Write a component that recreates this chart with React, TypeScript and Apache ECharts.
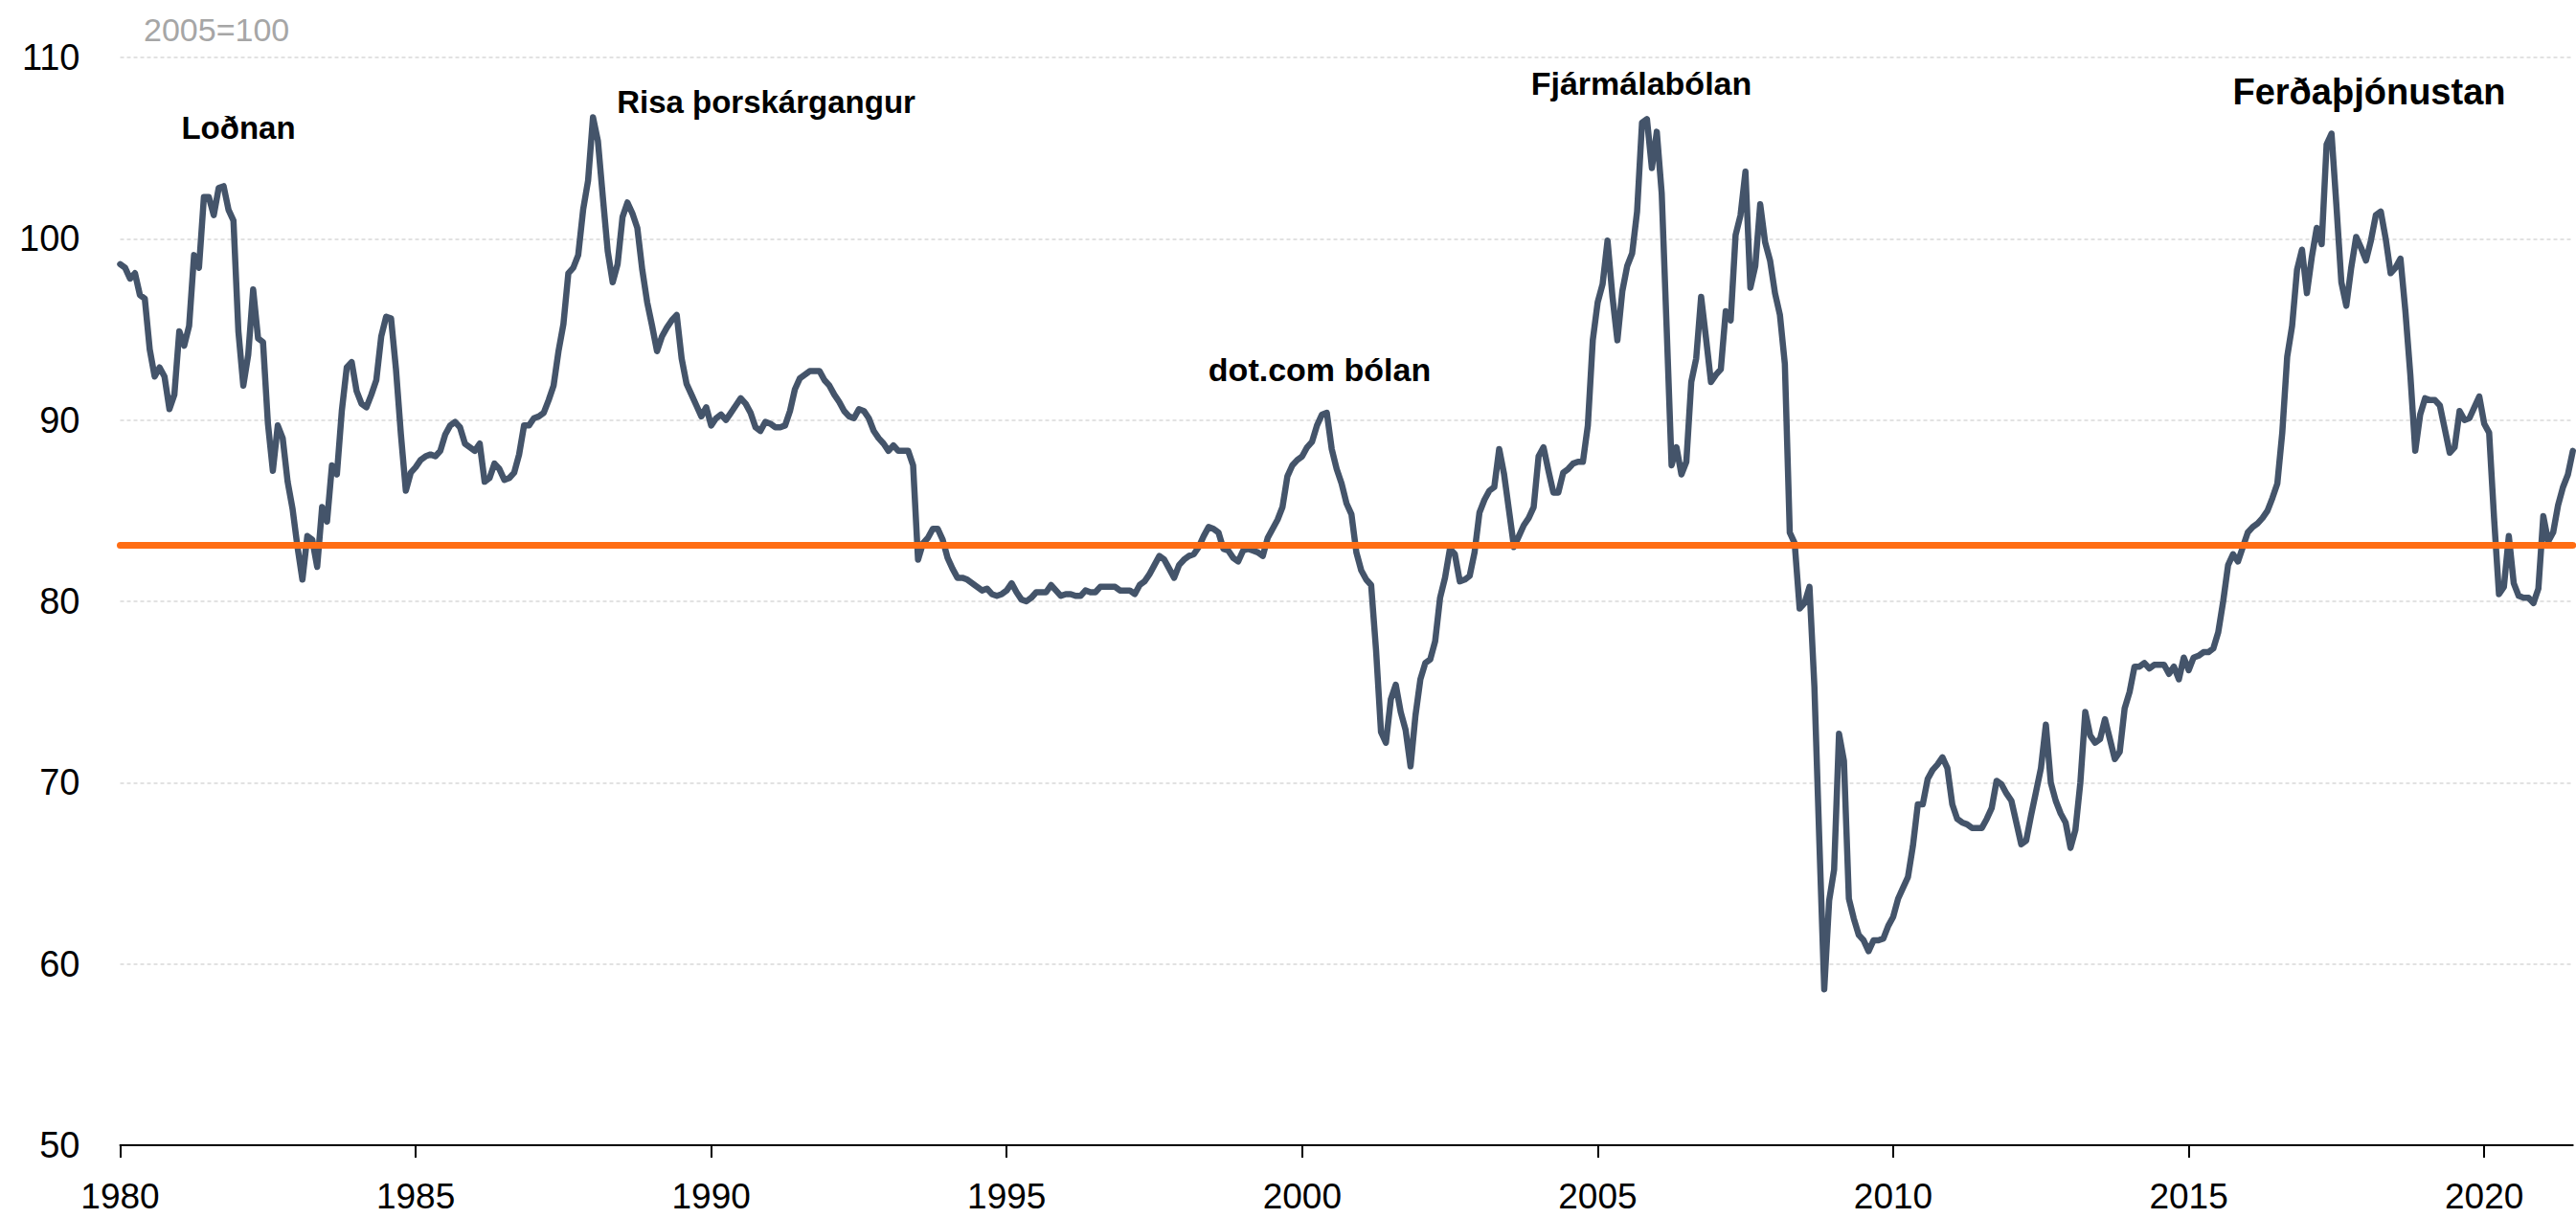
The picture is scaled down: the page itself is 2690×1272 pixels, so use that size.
import React, { useEffect, useRef } from "react";
import * as echarts from "echarts";

// Monthly index values (2005=100), one array per year
const v1980 = [98.6, 98.4, 97.8, 98.1, 96.9, 96.7, 93.9, 92.4, 92.9, 92.4, 90.6, 91.4];
const v1981 = [94.9, 94.1, 95.2, 99.1, 98.4, 102.3, 102.3, 101.3, 102.8, 102.9, 101.6, 101.0];
const v1982 = [94.9, 91.9, 93.6, 97.2, 94.5, 94.3, 89.8, 87.2, 89.7, 89.0, 86.6, 85.1];
const v1983 = [83.0, 81.2, 83.6, 83.4, 81.9, 85.2, 84.4, 87.5, 87.0, 90.5, 92.9, 93.2];
const v1984 = [91.6, 90.9, 90.7, 91.4, 92.2, 94.6, 95.7, 95.6, 92.8, 89.2, 86.1, 87.1];
const v1985 = [87.4, 87.8, 88.0, 88.1, 88.0, 88.3, 89.2, 89.7, 89.9, 89.6, 88.7, 88.5];
const v1986 = [88.3, 88.7, 86.6, 86.8, 87.6, 87.3, 86.7, 86.8, 87.1, 88.1, 89.7, 89.7];
const v1987 = [90.1, 90.2, 90.4, 91.1, 91.9, 93.8, 95.3, 98.1, 98.4, 99.1, 101.6, 103.2];
const v1988 = [106.7, 105.4, 102.3, 99.3, 97.6, 98.6, 101.2, 102.0, 101.4, 100.6, 98.3, 96.5];
const v1989 = [95.2, 93.8, 94.6, 95.1, 95.5, 95.8, 93.4, 92.0, 91.4, 90.8, 90.2, 90.7];
const v1990 = [89.7, 90.1, 90.3, 90.0, 90.4, 90.8, 91.2, 90.9, 90.4, 89.6, 89.4, 89.9];
const v1991 = [89.8, 89.6, 89.6, 89.7, 90.5, 91.7, 92.3, 92.5, 92.7, 92.7, 92.7, 92.2];
const v1992 = [91.9, 91.4, 91.0, 90.5, 90.2, 90.1, 90.6, 90.5, 90.1, 89.4, 89.0, 88.7];
const v1993 = [88.3, 88.6, 88.3, 88.3, 88.3, 87.5, 82.3, 83.2, 83.5, 84.0, 84.0, 83.4];
const v1994 = [82.4, 81.8, 81.3, 81.3, 81.2, 81.0, 80.8, 80.6, 80.7, 80.4, 80.3, 80.4];
const v1995 = [80.6, 81.0, 80.5, 80.1, 80.0, 80.2, 80.5, 80.5, 80.5, 80.9, 80.6, 80.3];
const v1996 = [80.4, 80.4, 80.3, 80.3, 80.6, 80.5, 80.5, 80.8, 80.8, 80.8, 80.8, 80.6];
const v1997 = [80.6, 80.6, 80.4, 80.9, 81.1, 81.5, 82.0, 82.5, 82.3, 81.8, 81.3, 82.0];
const v1998 = [82.3, 82.5, 82.6, 83.0, 83.6, 84.1, 84.0, 83.8, 82.9, 82.8, 82.4, 82.2];
const v1999 = [82.8, 82.9, 82.8, 82.7, 82.5, 83.5, 84.0, 84.5, 85.2, 86.9, 87.5, 87.8];
const v2000 = [88.0, 88.5, 88.8, 89.7, 90.3, 90.4, 88.4, 87.3, 86.5, 85.4, 84.8, 82.7];
const v2001 = [81.7, 81.2, 80.9, 77.3, 72.8, 72.2, 74.6, 75.4, 73.9, 72.9, 70.9, 73.7];
const v2002 = [75.7, 76.6, 76.8, 77.8, 80.2, 81.3, 82.9, 82.6, 81.1, 81.2, 81.4, 82.7];
const v2003 = [84.9, 85.6, 86.1, 86.3, 88.4, 87.0, 85.0, 83.0, 83.6, 84.2, 84.6, 85.2];
const v2004 = [88.0, 88.5, 87.2, 86.0, 86.0, 87.1, 87.3, 87.6, 87.7, 87.7, 89.7, 94.4];
const v2005 = [96.5, 97.5, 99.9, 96.8, 94.4, 97.1, 98.5, 99.2, 101.5, 106.4, 106.6, 103.9];
const v2006 = [105.9, 102.5, 95.1, 87.5, 88.5, 87.0, 87.7, 92.1, 93.4, 96.8, 94.5, 92.1];
const v2007 = [92.5, 92.8, 96.0, 95.5, 100.2, 101.3, 103.7, 97.3, 98.5, 101.9, 99.8, 98.8];
const v2008 = [97.0, 95.8, 93.1, 83.8, 83.2, 79.6, 79.9, 80.8, 75.3, 66.8, 58.6, 63.5];
const v2009 = [65.2, 72.7, 71.2, 63.6, 62.5, 61.6, 61.3, 60.7, 61.3, 61.3, 61.4, 62.1];
const v2010 = [62.6, 63.6, 64.2, 64.8, 66.5, 68.8, 68.8, 70.2, 70.7, 71.0, 71.4, 70.8];
const v2011 = [68.8, 68.0, 67.8, 67.7, 67.5, 67.5, 67.5, 68.0, 68.6, 70.1, 69.9, 69.4];
const v2012 = [69.0, 67.8, 66.6, 66.8, 68.2, 69.5, 70.8, 73.2, 70.0, 69.0, 68.3, 67.8];
const v2013 = [66.4, 67.4, 70.0, 73.9, 72.6, 72.2, 72.4, 73.5, 72.4, 71.3, 71.7, 74.1];
const v2014 = [75.0, 76.4, 76.4, 76.6, 76.3, 76.5, 76.5, 76.5, 76.0, 76.4, 75.7, 76.9];
const v2015 = [76.2, 76.9, 77.0, 77.2, 77.2, 77.4, 78.3, 80.0, 82.0, 82.6, 82.2, 83.0];
const v2016 = [83.8, 84.1, 84.3, 84.6, 85.0, 85.7, 86.5, 89.3, 93.5, 95.2, 98.3, 99.4];
const v2017 = [97.0, 99.0, 100.6, 99.7, 105.2, 105.8, 101.8, 97.6, 96.3, 98.4, 100.1, 99.5];
const v2018 = [98.8, 99.9, 101.3, 101.5, 100.0, 98.1, 98.4, 98.9, 96.0, 92.5, 88.3, 90.3];
const v2019 = [91.2, 91.1, 91.1, 90.8, 89.5, 88.2, 88.5, 90.5, 90.0, 90.1, 90.7, 91.3];
const v2020 = [89.8, 89.3, 84.6, 80.4, 80.8, 83.6, 81.0, 80.3, 80.2, 80.2, 79.9, 80.7];
const v2021 = [84.7, 83.3, 83.8, 85.3, 86.3, 87.0, 88.3];

const yearly = [
  v1980, v1981, v1982, v1983, v1984, v1985, v1986, v1987, v1988, v1989,
  v1990, v1991, v1992, v1993, v1994, v1995, v1996, v1997, v1998, v1999,
  v2000, v2001, v2002, v2003, v2004, v2005, v2006, v2007, v2008, v2009,
  v2010, v2011, v2012, v2013, v2014, v2015, v2016, v2017, v2018, v2019,
  v2020, v2021,
];
const firstYear = 1980;
const tickYears = [1980, 1985, 1990, 1995, 2000, 2005, 2010, 2015, 2020];
const yTicks = [50, 60, 70, 80, 90, 100, 110];
const averageLevel = 83.1;
const baseNote = "2005=100";
const episodes = ["Loðnan", "Risa þorskárgangur", "dot.com bólan", "Fjármálabólan", "Ferðaþjónustan"];

const categories: string[] = [];
const values: number[] = [];
yearly.forEach((arr, yi) => {
  arr.forEach((v, mi) => {
    categories.push(`${firstYear + yi}-${mi + 1}`);
    values.push(v);
  });
});

const FONT = "'Liberation Sans', Arial, sans-serif";

export default function App() {
  const ref = useRef<HTMLDivElement>(null);
  useEffect(() => {
    document.body.style.margin = "0";
    if (!ref.current) return;
    const chart = echarts.init(ref.current, undefined, { renderer: "svg" });
    const monthW = 5.143;
    const left = 125.5;
    const isTick = (_i: number, val: string) => {
      const [y, m] = val.split("-");
      return m === "1" && tickYears.includes(Number(y));
    };
    const ann = (text: string, x: number, y: number, size: number) => ({
      type: "text",
      x,
      y,
      style: {
        text,
        fill: "#000",
        font: `bold ${size}px ${FONT}`,
        textAlign: "center",
        textVerticalAlign: "middle",
      },
    });
    chart.setOption({
      animation: false,
      grid: {
        left,
        top: 60,
        width: (values.length - 1) * monthW,
        height: 1136,
        containLabel: false,
      },
      xAxis: {
        type: "category",
        data: categories,
        boundaryGap: false,
        axisLine: { show: true, lineStyle: { color: "#000", width: 2 } },
        axisTick: { show: true, interval: isTick, length: 13, lineStyle: { color: "#000", width: 2 } },
        axisLabel: {
          interval: isTick,
          formatter: (val: string) => val.split("-")[0],
          fontFamily: FONT,
          fontSize: 37,
          color: "#000",
          margin: 35,
        },
        splitLine: { show: false },
      },
      yAxis: {
        type: "value",
        min: yTicks[0],
        max: yTicks[yTicks.length - 1],
        interval: 10,
        axisLine: { show: false },
        axisTick: { show: false },
        axisLabel: { fontFamily: FONT, fontSize: 38, color: "#000", margin: 42 },
        splitLine: { show: true, lineStyle: { color: "#d9d9d9", width: 1.5, type: [4, 3] } },
      },
      series: [
        {
          type: "line",
          data: values,
          symbol: "none",
          lineStyle: { color: "#44546a", width: 6.5, join: "round", cap: "round" },
          markLine: {
            silent: true,
            symbol: "none",
            label: { show: false },
            lineStyle: { color: "#ff6d14", width: 7, type: "solid", cap: "round" },
            data: [{ yAxis: averageLevel }],
          },
        },
      ],
      graphic: [
        {
          type: "text",
          x: 150,
          y: 31,
          style: {
            text: baseNote,
            fill: "#a6a6a6",
            font: `34px ${FONT}`,
            textAlign: "left",
            textVerticalAlign: "middle",
          },
        },
        ann(episodes[0], 249, 133, 33),
        ann(episodes[1], 800, 106, 33),
        ann(episodes[2], 1378, 386, 34),
        ann(episodes[3], 1714, 87, 34),
        ann(episodes[4], 2474, 96, 38),
      ],
    });
    return () => chart.dispose();
  }, []);
  return (
    <div
      ref={ref}
      style={{ position: "absolute", left: 0, top: 0, width: 2690, height: 1272 }}
    />
  );
}
